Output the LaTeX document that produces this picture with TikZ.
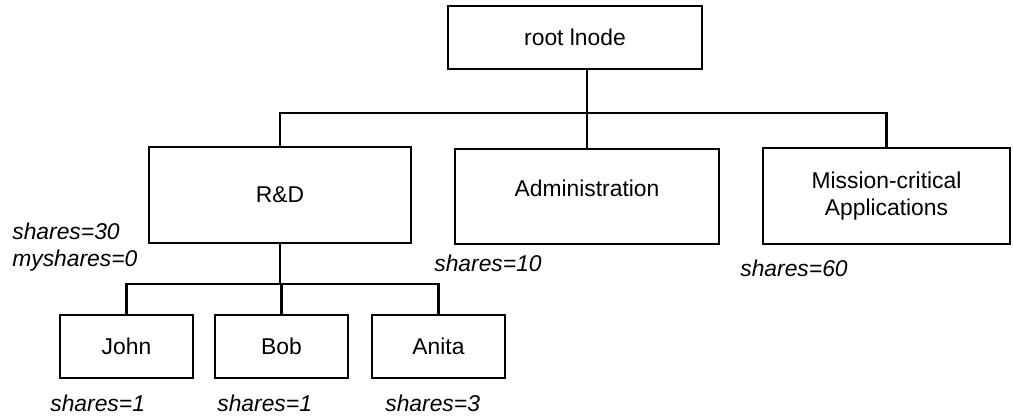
\documentclass[tikz,border=0pt]{standalone}
\usepackage{fontspec}
\setmainfont{Liberation Sans}
\usepackage{tikz}

\begin{document}
\begin{tikzpicture}[
	unit/.style={shape=rectangle,draw=black,line width=1.4pt,inner sep=0pt,align=center,font=\fontsize{13}{15.5}\selectfont},
	share/.style={anchor=west,align=left,inner sep=0pt,font=\fontsize{13}{15.5}\selectfont\itshape},
	link/.style={draw=black,line width=1.4pt}]
	\useasboundingbox (0,0) rectangle (20.26,8.38);

	\node[unit,minimum width=5.08cm,minimum height=1.26cm] (root) at (11.5, 7.63)     {root lnode};
	\node[unit,minimum width=5.24cm,minimum height=1.92cm] (rd) at (5.6, 4.48)        {R\&D};
	\node[unit,minimum width=5.28cm,minimum height=1.9cm,text depth=0.32cm] (admin) at (11.74, 4.45) {Administration};
	\node[unit,minimum width=4.94cm,minimum height=1.92cm] (mission) at (17.73, 4.46) {Mission-critical\\Applications};
	\node[unit,minimum width=2.66cm,minimum height=1.26cm] (john) at (2.53, 1.45)     {John};
	\node[unit,minimum width=2.66cm,minimum height=1.26cm] (bob) at (5.63, 1.45)      {Bob};
	\node[unit,minimum width=2.66cm,minimum height=1.26cm] (anita) at (8.77, 1.45)    {Anita};

	\coordinate (bus) at (0, 6.12);
	\coordinate (subbus) at (0, 2.7);

	\path[link] (admin.north) -- (admin.north |- root.south);
	\path[link] (rd.north) -- (rd.north |- bus) -| (mission.north);
	\path[link] (rd.south) -- (rd.south |- subbus);
	\path[link] (john.north) -- (john.north |- subbus) -| (anita.north);
	\path[link] (bob.north) -- (bob.north |- subbus);

	\node[share] (rdshares) at (0.24, 3.44)       {shares=30\\myshares=0};
	\node[share] (adminshares) at (8.68, 3.12)    {shares=10};
	\node[share] (missionshares) at (14.8, 3.02)  {shares=60};
	\node[share] (johnshares) at (1.0, 0.32)      {shares=1};
	\node[share] (bobshares) at (4.34, 0.32)      {shares=1};
	\node[share] (anitashares) at (7.7, 0.32)     {shares=3};
\end{tikzpicture}
\end{document}
